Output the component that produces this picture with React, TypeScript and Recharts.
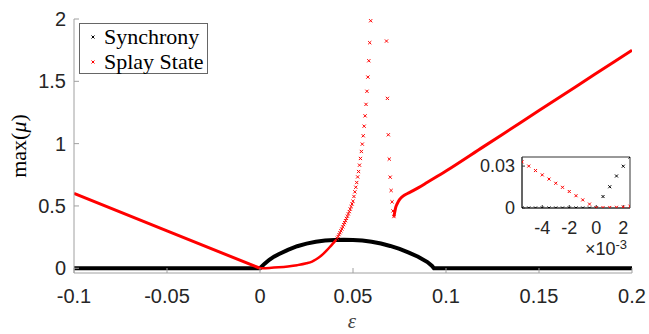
import React from 'react';
import {
  ComposedChart,
  ScatterChart,
  Line,
  Scatter,
  XAxis,
  YAxis,
  Legend,
  Label,
  CartesianGrid,
  ReferenceArea,
} from 'recharts';

const SANS = "'Liberation Sans', Arial, sans-serif";
const SERIF = "'Liberation Serif', 'Times New Roman', serif";

// main axes ticks
const xTicks = [-0.1, -0.05, 0, 0.05, 0.1, 0.15, 0.2];
const yTicks = [0, 0.5, 1, 1.5, 2];

// Synchrony (black)
const syncEps = [-0.1, 0, 0.0025, 0.005, 0.0075, 0.01, 0.015, 0.02, 0.025, 0.03, 0.035, 0.04, 0.045, 0.05, 0.055, 0.06, 0.065, 0.07, 0.075, 0.08, 0.085, 0.09, 0.0925, 0.0935, 0.2];
const syncMax = [0, 0, 0.037, 0.068, 0.093, 0.113, 0.148, 0.177, 0.198, 0.213, 0.222, 0.227, 0.228, 0.227, 0.222, 0.213, 0.199, 0.179, 0.155, 0.126, 0.093, 0.05, 0.018, 0, 0];

// Splay State (red) - straight branch for negative epsilon
const splayVEps = [-0.1, -0.05, 0];
const splayVMax = [0.6, 0.3, 0];

// Splay State - slowly rising branch
const splayLowEps = [0, 0.005, 0.01, 0.015, 0.02, 0.025, 0.028, 0.03, 0.032, 0.034, 0.036, 0.038, 0.04, 0.041];
const splayLowMax = [0, 0.003, 0.008, 0.015, 0.025, 0.04, 0.054, 0.07, 0.09, 0.115, 0.145, 0.178, 0.212, 0.23];

// Splay State - rising spike (individual markers)
const splaySpikeEps = [0.0415, 0.042, 0.0425, 0.043, 0.0435, 0.044, 0.0445, 0.045, 0.0455, 0.046, 0.0465, 0.047, 0.0475, 0.048, 0.0485, 0.049, 0.0495, 0.05, 0.0505, 0.051, 0.0515, 0.052, 0.0525, 0.053, 0.0535, 0.054, 0.0545, 0.055, 0.0555, 0.056, 0.0565, 0.057, 0.0575, 0.058, 0.0585, 0.059, 0.0595];
const splaySpikeMax = [0.24, 0.255, 0.27, 0.285, 0.3, 0.315, 0.332, 0.35, 0.366, 0.382, 0.4, 0.418, 0.436, 0.455, 0.475, 0.495, 0.516, 0.538, 0.576, 0.613, 0.65, 0.688, 0.733, 0.776, 0.827, 0.881, 0.937, 0.996, 1.063, 1.14, 1.223, 1.315, 1.42, 1.534, 1.665, 1.81, 1.986];

// Splay State - falling branch (individual markers)
const splayDropEps = [0.068, 0.0685, 0.069, 0.0695, 0.07, 0.0705, 0.071, 0.0715, 0.072];
const splayDropMax = [1.823, 1.363, 1.071, 0.876, 0.731, 0.624, 0.533, 0.46, 0.415];

// Splay State - dense right branch
const splayRightEps = [0.072, 0.0725, 0.073, 0.074, 0.075, 0.076, 0.078, 0.08, 0.085, 0.09, 0.1, 0.12, 0.14, 0.16, 0.18, 0.2];
const splayRightMax = [0.415, 0.455, 0.49, 0.525, 0.55, 0.568, 0.59, 0.605, 0.645, 0.69, 0.78, 0.974, 1.168, 1.362, 1.556, 1.75];

// Inset
const insetEps = [-0.0055, -0.005, -0.0045, -0.004, -0.0035, -0.003, -0.0025, -0.002, -0.0015, -0.001, -0.0005, 0, 0.0005, 0.001, 0.0015, 0.002, 0.0025];
const insetSync = [0, 0, 0, 0, 0, 0, 0, 0, 0, 0, 0, 0, 0.0082, 0.0152, 0.0229, 0.0299, 0.0365];
const insetSplay = [0.033, 0.03, 0.0268, 0.0237, 0.0207, 0.0177, 0.0148, 0.0118, 0.0088, 0.0058, 0.0028, 0.0002, 0.0003, 0.0004, 0.0005, 0.0007, 0.0013];
const insetXTicks = [-0.004, -0.002, 0, 0.002];
const insetYTicks = [0, 0.03];

const zip = (xs: number[], ys: number[]) => xs.map((x, i) => ({ x, y: ys[i] }));

const syncData = zip(syncEps, syncMax);
const splayV = zip(splayVEps, splayVMax);
const splayLow = zip(splayLowEps, splayLowMax);
const splaySpike = zip(splaySpikeEps, splaySpikeMax);
const splayDrop = zip(splayDropEps, splayDropMax);
const splayRight = zip(splayRightEps, splayRightMax);
const insetSyncData = zip(insetEps, insetSync);
const insetSplayData = zip(insetEps, insetSplay);

const cross = (color: string, r: number) => (props: any) => {
  const { cx, cy } = props;
  if (cx == null || cy == null || isNaN(cx) || isNaN(cy)) return <g />;
  return (
    <path
      d={`M${cx - r},${cy - r}L${cx + r},${cy + r}M${cx - r},${cy + r}L${cx + r},${cy - r}`}
      stroke={color}
      strokeWidth={1}
      fill="none"
    />
  );
};

const LegendBox = () => (
  <div
    style={{
      position: 'relative',
      width: 129,
      height: 51,
      boxSizing: 'border-box',
      border: '1px solid #666',
      background: '#fff',
    }}
  >
    {[
      { name: 'Synchrony', color: '#000', cy: 13 },
      { name: 'Splay State', color: '#f00', cy: 37.5 },
    ].map((it) => (
      <React.Fragment key={it.name}>
        <svg width={6} height={6} style={{ position: 'absolute', left: 9.5, top: it.cy - 3 }}>
          <path d="M1.5,1.5L4.5,4.5M1.5,4.5L4.5,1.5" stroke={it.color} strokeWidth={1} />
        </svg>
        <span
          style={{
            position: 'absolute',
            left: 24,
            top: it.cy - 11,
            lineHeight: '22px',
            fontSize: 22,
            fontFamily: SERIF,
            color: '#000',
            whiteSpace: 'nowrap',
          }}
        >
          {it.name}
        </span>
      </React.Fragment>
    ))}
  </div>
);

const EpsLabel = () => (
  <text x={352} y={328} textAnchor="middle" fontFamily={SERIF} fontStyle="italic" fontSize={21} fill="#444">
    ε
  </text>
);

const MuLabel = () => (
  <text
    x={18}
    y={146}
    transform="rotate(-90,18,146)"
    textAnchor="middle"
    dominantBaseline="central"
    fontFamily={SERIF}
    fontSize={22}
    fill="#000"
  >
    max(<tspan fontStyle="italic">μ</tspan>)
  </text>
);

const ExpLabel = () => (
  <text x={157} y={115} textAnchor="end" fontFamily={SANS} fontSize={18} fill="#262626">
    ×10<tspan dy={-6} fontSize={13}>-3</tspan>
  </text>
);

const mainTick = { fill: '#262626', fontSize: 20, fontFamily: SANS };
const insetTick = { fill: '#262626', fontSize: 18, fontFamily: SANS };

export default function App() {
  return (
    <div style={{ position: 'absolute', left: 0, top: 0, width: 649, height: 334, background: '#fff' }}>
      <div style={{ position: 'absolute', left: 0, top: 0 }}>
        <ComposedChart width={649} height={334} margin={{ top: 19, right: 17, bottom: 21, left: 24 }}>
          <XAxis
            type="number"
            dataKey="x"
            domain={[-0.1, 0.2]}
            ticks={xTicks}
            interval={0}
            allowDataOverflow
            height={40}
            stroke="#a0a0a0"
            tickSize={-5}
            tickMargin={21}
            tick={mainTick}
            tickFormatter={(v: number) => String(v)}
          >
            <Label content={EpsLabel} />
          </XAxis>
          <YAxis
            type="number"
            dataKey="y"
            domain={[-0.038, 2]}
            ticks={yTicks}
            interval={0}
            allowDataOverflow
            width={50}
            stroke="#a0a0a0"
            tickSize={-5}
            tickMargin={13}
            tick={mainTick}
            tickFormatter={(v: number) => String(v)}
          >
            <Label content={MuLabel} />
          </YAxis>
          <Legend
            layout="vertical"
            align="center"
            verticalAlign="middle"
            wrapperStyle={{ left: 79, top: 23, width: 129, height: 51 }}
            content={() => <LegendBox />}
          />
          <Line data={syncData} dataKey="y" type="linear" stroke="#000" strokeWidth={4} dot={false} isAnimationActive={false} />
          <Line data={splayV} dataKey="y" type="linear" stroke="#f00" strokeWidth={3} dot={false} isAnimationActive={false} />
          <Line data={splayLow} dataKey="y" type="monotone" stroke="#f00" strokeWidth={2.5} dot={false} isAnimationActive={false} />
          <Line data={splayRight} dataKey="y" type="monotone" stroke="#f00" strokeWidth={3} dot={false} isAnimationActive={false} />
          <Scatter data={splaySpike} shape={cross('#f00', 1.6)} isAnimationActive={false} />
          <Scatter data={splayDrop} shape={cross('#f00', 1.6)} isAnimationActive={false} />
        </ComposedChart>
      </div>
      <div style={{ position: 'absolute', left: 470, top: 140 }}>
        <ScatterChart width={170} height={125} margin={{ top: 17, right: 10, bottom: 27, left: 7 }}>
          <CartesianGrid horizontal={false} vertical={false} fill="#fff" fillOpacity={1} />
          <XAxis
            type="number"
            dataKey="x"
            domain={[-0.0055, 0.0025]}
            ticks={insetXTicks}
            interval={0}
            allowDataOverflow
            height={30}
            stroke="#333"
            tickSize={-3}
            tickMargin={16}
            tick={insetTick}
            tickFormatter={(v: number) => String(Math.round(v * 1000))}
          >
            <Label content={ExpLabel} />
          </XAxis>
          <YAxis
            type="number"
            dataKey="y"
            domain={[0, 0.0365]}
            ticks={insetYTicks}
            interval={0}
            allowDataOverflow
            width={45}
            stroke="#333"
            tickSize={-3}
            tickMargin={10}
            tick={insetTick}
            tickFormatter={(v: number) => String(v)}
          />
          <ReferenceArea x1={-0.0055} x2={0.0025} y1={0} y2={0.0365} fill="none" stroke="#333" strokeWidth={1} />
          <Scatter data={insetSyncData} shape={cross('#000', 1.5)} isAnimationActive={false} />
          <Scatter data={insetSplayData} shape={cross('#f00', 1.5)} isAnimationActive={false} />
        </ScatterChart>
      </div>
    </div>
  );
}
